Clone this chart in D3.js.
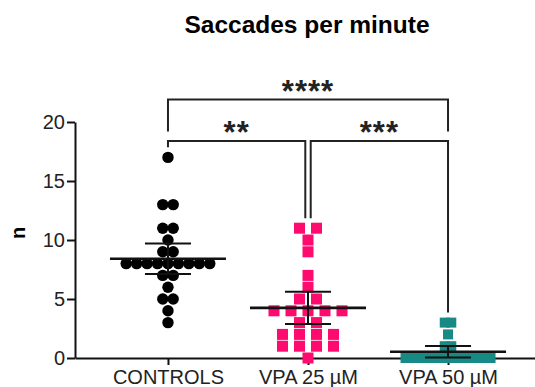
<!DOCTYPE html>
<html>
<head>
<meta charset="utf-8">
<script src="https://cdn.jsdelivr.net/npm/d3@7"></script>
<style>
  body { margin: 0; background: #fff; }
  svg { display: block; font-family: "Liberation Sans", Arial, sans-serif; }
</style>
</head>
<body>
<div id="chart"></div>
<script>
const width = 535;
const height = 387;

// values
const categories = ["CONTROLS", "VPA 25 µM", "VPA 50 µM"];
const controls = [17, 13, 13, 11, 11, 10, 9, 9, 8, 8, 8, 8, 8, 8, 8, 8, 8, 7, 7, 6, 5, 5, 4, 3];
const vpa25 = [11, 11, 10, 9, 7, 6, 5, 5, 4, 4, 4, 4, 4, 3, 3, 2, 2, 2, 2, 1, 1, 1, 1, 0];
const vpa50 = [3, 3, 2, 1, 1, 0, 0, 0, 0, 0, 0, 0, 0, 0, 0, 0, 0, 0, 0];
const yTicks = [0, 5, 10, 15, 20];
const comparisons = [
    { a: 0, b: 1, label: "**" },
    { a: 1, b: 2, label: "***" },
    { a: 0, b: 2, label: "****" }
];

const groups = [
    { name: categories[0], values: controls, color: "#000", shape: "circle", size: 11.4 },
    { name: categories[1], values: vpa25, color: "#ff0a6e", shape: "square", size: 11 },
    { name: categories[2], values: vpa50, color: "#178a85", shape: "square", size: 10 }
];

const margin = { top: 122, left: 75, bottom: 29 };

const svg = d3.select("#chart")
    .append("svg")
    .attr("width", width)
    .attr("height", height);

const x = d3.scalePoint()
    .domain(categories)
    .range([margin.left, 541])
    .padding(0.664);

const y = d3.scaleLinear()
    .domain([0, 20])
    .range([height - margin.bottom, margin.top]);

// title
svg.append("text")
    .attr("x", 307)
    .attr("y", 33)
    .attr("text-anchor", "middle")
    .style("font-size", "24.5px")
    .style("font-weight", "bold")
    .text("Saccades per minute");

// y label
svg.append("text")
    .attr("transform", `translate(25,${(y(0) + y(20)) / 2 - 7}) rotate(-90)`)
    .attr("text-anchor", "middle")
    .style("font-size", "20px")
    .style("font-weight", "bold")
    .text("n");

// axes
const yAxis = svg.append("g")
    .attr("transform", `translate(${margin.left},0)`)
    .call(d3.axisLeft(y).tickValues(yTicks).tickSize(8).tickPadding(2).tickSizeOuter(0));

const xAxis = svg.append("g")
    .attr("transform", `translate(0,${y(0)})`)
    .call(d3.axisBottom(x).tickSize(7).tickPadding(5).tickSizeOuter(0));

[yAxis, xAxis].forEach(ax => {
    ax.select(".domain").attr("stroke", "#111").attr("stroke-width", 2);
    ax.selectAll(".tick line").attr("stroke", "#111").attr("stroke-width", 2);
    ax.selectAll("text").attr("fill", "#222").style("font-size", "20px")
        .style("font-family", '"Liberation Sans", Arial, sans-serif');
});

// scatter: points in the same row are spread sideways
function layout(g) {
    const rows = d3.group(g.values, v => v);
    const maxCount = d3.max(Array.from(rows.values(), r => r.length));
    const step = Math.min(17, (95 - g.size) / Math.max(1, maxCount - 1));
    const pts = [];
    rows.forEach((r, v) => {
        r.forEach((_, i) => pts.push({ v, dx: (i - (r.length - 1) / 2) * step }));
    });
    return pts;
}

// two-sided 95% t quantile (Cornish-Fisher)
function t975(df) {
    const z = 1.959964;
    return z + (z ** 3 + z) / (4 * df) + (5 * z ** 5 + 16 * z ** 3 + 3 * z) / (96 * df * df);
}

groups.forEach(g => {
    const cx = x(g.name);
    const pts = layout(g);
    const layer = svg.append("g");
    if (g.shape === "circle") {
        layer.selectAll("circle")
            .data(pts)
            .join("circle")
            .attr("cx", d => cx + d.dx)
            .attr("cy", d => y(d.v))
            .attr("r", g.size / 2)
            .attr("fill", g.color);
    } else {
        layer.selectAll("rect")
            .data(pts)
            .join("rect")
            .attr("x", d => cx + d.dx - g.size / 2)
            .attr("y", d => y(d.v) - g.size / 2)
            .attr("width", g.size)
            .attr("height", g.size)
            .attr("fill", g.color);
    }

    // mean with 95% CI
    const m = d3.mean(g.values);
    const ci = t975(g.values.length - 1) * d3.deviation(g.values) / Math.sqrt(g.values.length);
    const bars = svg.append("g").attr("stroke", "#111");
    bars.append("line")
        .attr("x1", cx - 58).attr("x2", cx + 58)
        .attr("y1", y(m)).attr("y2", y(m))
        .attr("stroke-width", 2.6);
    bars.append("line")
        .attr("x1", cx).attr("x2", cx)
        .attr("y1", y(m + ci)).attr("y2", y(m - ci))
        .attr("stroke-width", 2);
    [m + ci, m - ci].forEach(v => {
        bars.append("line")
            .attr("x1", cx - 23).attr("x2", cx + 23)
            .attr("y1", y(v)).attr("y2", y(v))
            .attr("stroke-width", 2);
    });
});

// significance brackets
const bracketLevel = [18.4, 18.4, 21.9];
comparisons.forEach((c, i) => {
    const ga = groups[c.a], gb = groups[c.b];
    const inset = c.b - c.a === 1 ? 2.7 : 0;
    const xa = x(ga.name) + (c.a === 1 ? inset : 0);
    const xb = x(gb.name) - (c.b === 1 ? inset : 0);
    const top = y(bracketLevel[i]);
    const legA = c.b - c.a === 2 ? y(19.2) : y(d3.max(ga.values) + 0.85);
    const legB = c.b - c.a === 2 ? y(19.2) : y(d3.max(gb.values) + 0.85);
    svg.append("path")
        .attr("d", `M${xa},${legA}V${top}H${xb}V${legB}`)
        .attr("fill", "none")
        .attr("stroke", "#222")
        .attr("stroke-width", 2);
    svg.append("text")
        .attr("x", (xa + xb) / 2)
        .attr("y", top + 2)
        .attr("text-anchor", "middle")
        .style("font-size", "31px")
        .style("font-weight", "bold")
        .style("letter-spacing", "1px")
        .attr("fill", "#222")
        .text(c.label);
});
</script>
</body>
</html>
